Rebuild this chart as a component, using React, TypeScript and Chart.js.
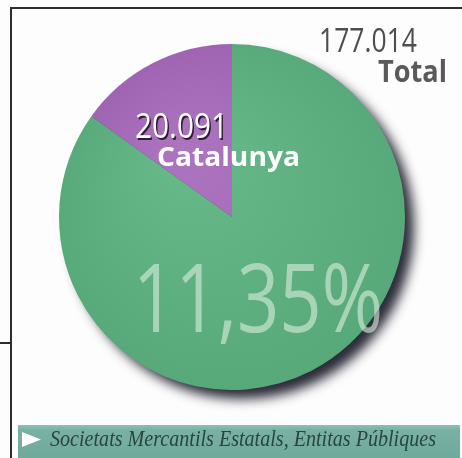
import React, { useEffect, useRef } from "react";
import { Chart, registerables } from "chart.js";

Chart.register(...registerables);

// Slice shares as drawn in the picture (percent of the circle)
const categories = ["Resta", "Catalunya"];
const sliceShares = [84.9, 15.1];
const totalLabel = "177.014";
const totalWord = "Total";
const catValue = "20.091";
const catName = "Catalunya";
const pctLabel = "11,35%";
const footer = "Societats Mercantils Estatals, Entitas Públiques";

function fitText(ctx: CanvasRenderingContext2D, text: string, x: number, y: number, font: string, width: number, color: string, shadow?: boolean) {
  ctx.save();
  ctx.font = font;
  ctx.textAlign = "left";
  ctx.textBaseline = "alphabetic";
  const w = ctx.measureText(text).width;
  const sx = width / w;
  ctx.translate(x, y);
  ctx.scale(sx, 1);
  if (shadow) {
    ctx.fillStyle = "rgba(30,20,40,0.9)";
    ctx.fillText(text, 1.5 / sx, 2);
  }
  ctx.fillStyle = color;
  ctx.fillText(text, 0, 0);
  ctx.restore();
}

const decorPlugin = {
  id: "decor",
  beforeDraw(chart: any) {
    const ctx = chart.ctx as CanvasRenderingContext2D;
    ctx.save();
    ctx.fillStyle = "#fdfdfd";
    ctx.fillRect(0, 0, chart.width, chart.height);
    ctx.strokeStyle = "#2e2e2e";
    ctx.lineWidth = 2;
    ctx.beginPath();
    ctx.moveTo(11, 459);
    ctx.lineTo(11, 8);
    ctx.lineTo(462, 8);
    ctx.moveTo(0, 343);
    ctx.lineTo(12, 343);
    ctx.stroke();
    const g = ctx.createLinearGradient(0, 425, 0, 458);
    g.addColorStop(0, "#8cc0b4");
    g.addColorStop(0.15, "#79b1a5");
    g.addColorStop(1, "#6fa99c");
    ctx.fillStyle = g;
    ctx.fillRect(18, 425, 442, 33);
    ctx.fillStyle = "#ffffff";
    ctx.beginPath();
    ctx.moveTo(22, 432);
    ctx.lineTo(22, 447);
    ctx.lineTo(41, 439.5);
    ctx.closePath();
    ctx.fill();
    ctx.restore();
    fitText(ctx, footer, 50, 446, "italic 23px 'Liberation Serif'", 386, "#28463f");
  },
  beforeDatasetsDraw(chart: any) {
    const arc = chart.getDatasetMeta(0).data[0];
    if (!arc) return;
    const ctx = chart.ctx as CanvasRenderingContext2D;
    ctx.save();
    ctx.shadowColor = "rgba(20,20,35,0.9)";
    ctx.shadowBlur = 12;
    ctx.shadowOffsetX = 10;
    ctx.shadowOffsetY = 10;
    ctx.fillStyle = "#3d4a45";
    ctx.beginPath();
    ctx.arc(arc.x, arc.y, arc.outerRadius - 1, 0, Math.PI * 2);
    ctx.fill();
    ctx.restore();
  },
  afterDatasetsDraw(chart: any) {
    const ctx = chart.ctx as CanvasRenderingContext2D;
    fitText(ctx, pctLabel, 133, 332, "96px 'Open Sans'", 250, "rgba(214,238,218,0.62)");
    fitText(ctx, catValue, 135, 138, "34px 'Open Sans'", 93, "#ffffff", true);
    fitText(ctx, catName, 157, 166, "bold 27px 'Open Sans'", 143, "#ffffff");
    fitText(ctx, totalLabel, 319, 52, "33px 'Open Sans'", 98, "#4e4e4e");
    fitText(ctx, totalWord, 378, 82, "bold 30px 'Open Sans'", 69, "#5a5a5a");
  },
};

function grad(chart: any, c1: string, c2: string) {
  const a = chart.chartArea;
  if (!a) return c1;
  const cx = (a.left + a.right) / 2;
  const cy = (a.top + a.bottom) / 2;
  const r = (a.right - a.left) / 2;
  const g = chart.ctx.createRadialGradient(cx - r * 0.3, cy - r * 0.4, 0, cx, cy, r * 1.1);
  g.addColorStop(0, c1);
  g.addColorStop(1, c2);
  return g;
}

export default function App() {
  const ref = useRef<HTMLCanvasElement>(null);
  useEffect(() => {
    document.body.style.margin = "0";
    const chart = new Chart(ref.current!, {
      type: "pie",
      data: {
        labels: categories,
        datasets: [
          {
            data: sliceShares,
            backgroundColor: (c: any) =>
              c.dataIndex === 0 ? grad(c.chart, "#68ba8a", "#57a878") : grad(c.chart, "#ad74c0", "#9c62b0"),
            borderWidth: 0,
          },
        ],
      },
      options: {
        animation: false,
        responsive: false,
        rotation: 0,
        layout: { padding: { top: 43, bottom: 67, left: 59, right: 57 } },
        plugins: { legend: { display: false }, tooltip: { enabled: false } },
      },
      plugins: [decorPlugin],
    });
    return () => chart.destroy();
  }, []);
  return (
    <div style={{ width: 462, height: 458 }}>
      <canvas ref={ref} width={462} height={458} style={{ display: "block" }} />
    </div>
  );
}
